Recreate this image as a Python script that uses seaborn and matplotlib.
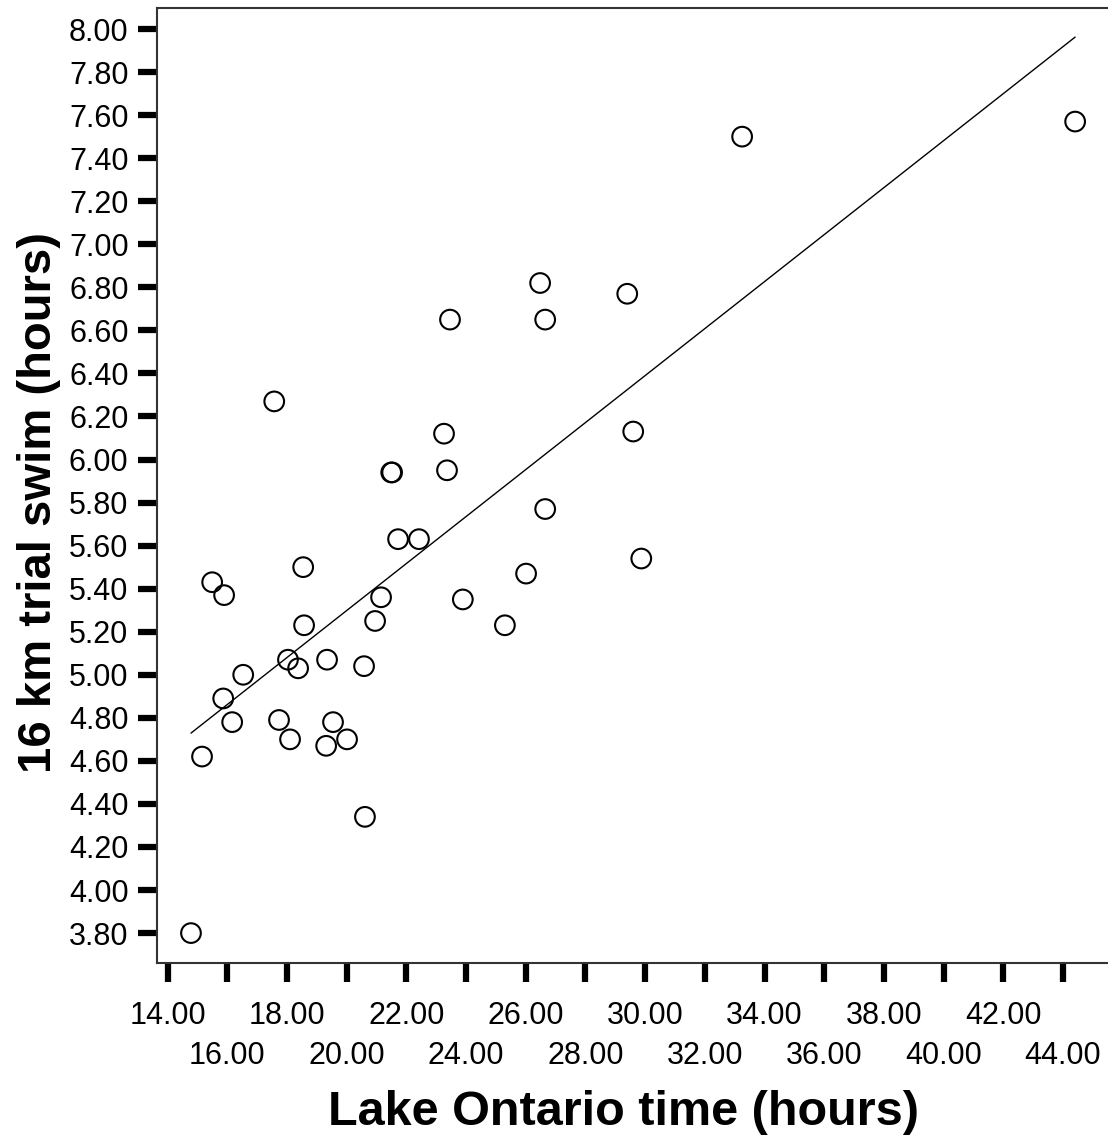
import matplotlib
matplotlib.use("Agg")
import matplotlib.pyplot as plt
import seaborn as sns
import numpy as np
import pandas as pd

# Lake Ontario crossing time (hours)
lake_ontario_time = [
    14.78, 15.15, 15.49, 15.89, 15.86, 16.16, 16.53, 17.57, 17.73, 18.03,
    18.10, 18.37, 18.54, 18.57, 19.34, 19.31, 19.54, 20.01, 20.58, 20.61,
    20.95, 21.15, 21.49, 21.52, 21.72, 22.42, 23.26, 23.36, 23.46, 23.89,
    25.30, 26.01, 26.48, 26.65, 26.65, 29.40, 29.60, 29.87, 33.25, 44.41,
]
# 16 km trial swim time (hours)
trial_swim_time = [
    3.80, 4.62, 5.43, 5.37, 4.89, 4.78, 5.00, 6.27, 4.79, 5.07,
    4.70, 5.03, 5.50, 5.23, 5.07, 4.67, 4.78, 4.70, 5.04, 4.34,
    5.25, 5.36, 5.94, 5.94, 5.63, 5.63, 6.12, 5.95, 6.65, 5.35,
    5.23, 5.47, 6.82, 6.65, 5.77, 6.77, 6.13, 5.54, 7.50, 7.57,
]
x_ticks_major = [14, 18, 22, 26, 30, 34, 38, 42]
x_ticks_minor = [16, 20, 24, 28, 32, 36, 40, 44]
y_ticks = [3.8, 4.0, 4.2, 4.4, 4.6, 4.8, 5.0, 5.2, 5.4, 5.6, 5.8, 6.0,
           6.2, 6.4, 6.6, 6.8, 7.0, 7.2, 7.4, 7.6, 7.8, 8.0]
x_label = "Lake Ontario time (hours)"
y_label = "16 km trial swim (hours)"

df = pd.DataFrame({"x": lake_ontario_time, "y": trial_swim_time})

sns.set_style("white")
plt.rcParams["font.family"] = ["Liberation Sans", "DejaVu Sans"]

W, H = 1108, 1136
fig = plt.figure(figsize=(W / 100, H / 100), dpi=100)
left, right, top, bottom = 157, 1112, 8, 963
ax = fig.add_axes([left / W, (H - bottom) / H, (right - left) / W, (bottom - top) / H])

sns.regplot(
    data=df, x="x", y="y", ax=ax, ci=None, truncate=True, marker="o",
    scatter_kws=dict(facecolors="none", edgecolors="black", s=200,
                     linewidths=1.5, alpha=1, zorder=3),
    line_kws=dict(color="black", linewidth=1.0, zorder=2),
)

ax.set_xlim(13.641, 45.645)
ax.set_ylim(3.661, 8.0976)

ax.set_xticks(x_ticks_major)
ax.set_xticklabels([f"{v:.2f}" for v in x_ticks_major])
ax.set_xticks(x_ticks_minor, minor=True)
ax.set_xticklabels([f"{v:.2f}" for v in x_ticks_minor], minor=True)
ax.set_yticks(y_ticks)
ax.set_yticklabels([f"{v:.2f}" for v in y_ticks])

ax.tick_params(axis="x", which="both", direction="out", length=14, width=4.5,
               color="black", labelsize=22, labelcolor="black", bottom=True)
ax.tick_params(axis="x", which="major", pad=13)
ax.tick_params(axis="x", which="minor", pad=42)
ax.tick_params(axis="y", which="major", direction="out", length=14, width=4.5,
               color="black", labelsize=22, labelcolor="black", pad=6.5, left=True)

for s in ["left", "bottom", "top", "right"]:
    ax.spines[s].set_color("#333333")
    ax.spines[s].set_linewidth(1.5)

ax.set_xlabel(x_label, fontsize=35, fontweight="bold", labelpad=14, color="black")
ax.set_ylabel(y_label, fontsize=34, fontweight="bold", labelpad=6, color="black")
ax.xaxis.label.set_x(0.489)
ax.yaxis.label.set_y(0.482)

fig.savefig("out.png", dpi=100, facecolor="white")
